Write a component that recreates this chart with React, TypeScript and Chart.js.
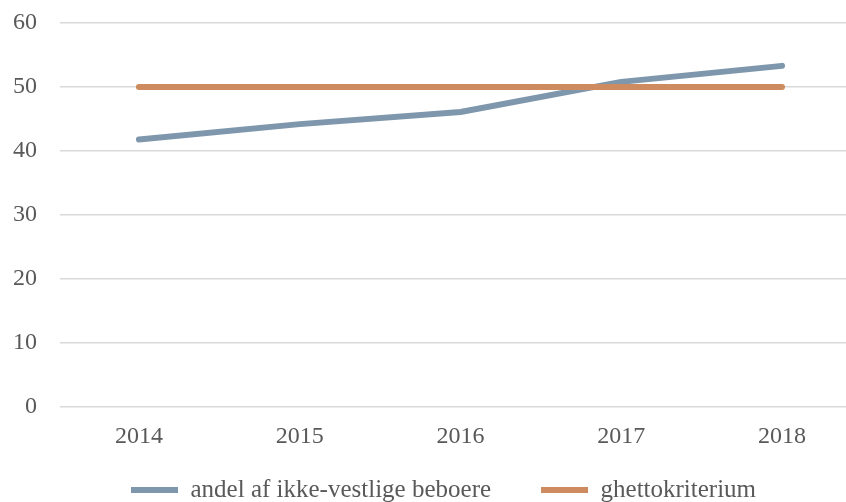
import React, { useEffect, useRef } from "react";
import { Chart, registerables } from "chart.js";

Chart.register(...registerables);

const years = [2014, 2015, 2016, 2017, 2018];
const shareNonWestern = [41.8, 44.2, 46.1, 50.8, 53.3];
const ghettoCriterion = [50, 50, 50, 50, 50];
const seriesNames = ["andel af ikke-vestlige beboere", "ghettokriterium"];
const yTicks = [0, 10, 20, 30, 40, 50, 60];

const FONT = "'Liberation Serif', 'Times New Roman', serif";
const TEXT = "#595959";

const legendFix = {
  id: "legendFix",
  beforeLayout(chart: any) {
    const lg = chart.legend;
    if (lg && !lg.__patched) {
      const orig = lg.fit.bind(lg);
      lg.fit = function () {
        orig();
        this.height = 49;
      };
      lg.__patched = true;
    }
  },
  afterLayout(chart: any) {
    const lg = chart.legend;
    if (lg) {
      const pad = lg.options.labels.padding;
      lg.left = 131 - pad;
      lg.right = chart.width;
      lg.width = lg.right - lg.left;
      lg.top = 477.5 - pad;
      lg.bottom = chart.height;
      lg.height = lg.bottom - lg.top;
    }
  },
};

export default function App() {
  const ref = useRef<HTMLCanvasElement | null>(null);

  useEffect(() => {
    document.body.style.margin = "0";
    const ctx = ref.current!;
    const chart = new Chart(ctx, {
      type: "line",
      data: {
        datasets: [
          {
            label: seriesNames[0],
            data: years.map((y, i) => ({ x: y, y: shareNonWestern[i] })),
            borderColor: "#7e97ac",
            backgroundColor: "#7e97ac",
            borderWidth: 6,
            borderCapStyle: "round",
            borderJoinStyle: "round",
            pointRadius: 0,
            tension: 0,
            order: 1,
          },
          {
            label: seriesNames[1],
            data: years.map((y, i) => ({ x: y, y: ghettoCriterion[i] })),
            borderColor: "#cd8b5f",
            backgroundColor: "#cd8b5f",
            borderWidth: 6,
            borderCapStyle: "round",
            borderJoinStyle: "round",
            pointRadius: 0,
            tension: 0,
            order: 0,
          },
        ],
      },
      options: {
        responsive: false,
        animation: false,
        devicePixelRatio: 1,
        layout: { padding: { top: 23, right: 0, left: 0, bottom: 0 } },
        plugins: {
          tooltip: { enabled: false },
          legend: {
            position: "bottom",
            align: "start",
            labels: {
              usePointStyle: true,
              pointStyle: "line",
              pointStyleWidth: 47,
              padding: 50,
              color: TEXT,
              font: { family: FONT, size: 25 },
              sort: (a: any, b: any) => a.datasetIndex - b.datasetIndex,
            },
          },
        },
        scales: {
          x: {
            type: "linear",
            min: 2013.509,
            max: 2018.398,
            grid: { display: false, drawTicks: false },
            border: { display: false },
            afterBuildTicks: (s: any) => {
              s.ticks = years.map((v) => ({ value: v }));
            },
            afterFit: (s: any) => {
              s.height = 46;
              s.paddingLeft = 0;
              s.paddingRight = 0;
            },
            ticks: {
              padding: 15,
              color: TEXT,
              font: { family: FONT, size: 24 },
              callback: (v: any) => String(v),
              maxRotation: 0,
              autoSkip: false,
            },
          },
          y: {
            min: 0,
            max: 60,
            afterBuildTicks: (s: any) => {
              s.ticks = yTicks.map((v) => ({ value: v }));
            },
            afterFit: (s: any) => {
              s.width = 60;
              s.paddingTop = 0;
              s.paddingBottom = 0;
            },
            grid: { color: "#d9d9d9", lineWidth: 1.5, drawTicks: false },
            border: { display: false },
            ticks: {
              padding: 23,
              color: TEXT,
              font: { family: FONT, size: 24 },
            },
          },
        },
      },
      plugins: [legendFix],
    });
    return () => chart.destroy();
  }, []);

  return (
    <div style={{ position: "absolute", left: 0, top: 0, width: 846, height: 502, background: "#fff" }}>
      <canvas ref={ref} width={846} height={502} />
    </div>
  );
}
